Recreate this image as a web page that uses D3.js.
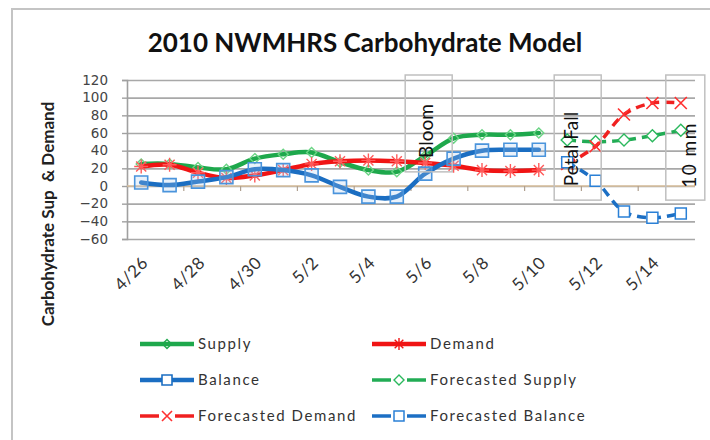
<!DOCTYPE html>
<html>
<head>
<meta charset="utf-8">
<script src="https://cdn.jsdelivr.net/npm/d3@7"></script>
<style>
  body { margin: 0; background: #fff; }
  svg { display: block; }
</style>
</head>
<body>
<svg id="chart" width="710" height="440"></svg>
<script>
// dates on the category axis
const dates = ["4/26","4/27","4/28","4/29","4/30","5/1","5/2","5/3","5/4","5/5",
               "5/6","5/7","5/8","5/9","5/10","5/11","5/12","5/13","5/14","5/15"];
const tickLabels = ["4/26","4/28","4/30","5/2","5/4","5/6","5/8","5/10","5/12","5/14"];
const yTicks = [-60, -40, -20, 0, 20, 40, 60, 80, 100, 120];

// measured series (4/26 .. 5/10)
const supply  = [25, 25, 21, 19, 31, 36, 38, 27, 18, 16, 34, 54, 58, 58, 60];
const demand  = [22, 24, 15,  9, 12, 18, 25, 28, 29, 28, 26, 23, 18, 17, 18];
const balance = [ 4,  1,  5, 10, 19, 18, 12, -1,-12,-12, 14, 31, 40, 41, 41];

// forecast series (5/11 .. 5/15)
const fcDates   = ["5/11","5/12","5/13","5/14","5/15"];
const fcSupply  = [52, 50, 52, 57, 63];
const fcDemand  = [25, 45, 81, 94, 94];
const fcBalance = [27,  6,-29,-36,-31];

// stage notes
const noteLabels = ["Bloom", "Petal Fall", "10 mm"];
const noteDates  = ["5/6", "5/11", "5/15"];

const svg = d3.select("#chart");
const plotL = 127, plotR = 695, plotT = 80, plotB = 239;

const x = d3.scaleBand().domain(dates).range([plotL, plotR]);
const cx = d => x(d) + x.bandwidth() / 2;
const y = d3.scaleLinear().domain([-60, 120]).range([plotB, plotT]);

// outer chart frame
svg.append("path")
  .attr("d", "M12,440V9H712")
  .attr("fill", "none")
  .attr("stroke", "#c4c4c4")
  .attr("stroke-width", 2);

// title
svg.append("text")
  .attr("x", 365).attr("y", 52)
  .attr("text-anchor", "middle")
  .style("font", "bold 26px Lato, sans-serif")
  .style("fill", "#111")
  .text("2010 NWMHRS Carbohydrate Model");

// y axis title
svg.append("text")
  .attr("transform", "translate(54,214) rotate(-90)")
  .attr("text-anchor", "middle")
  .style("font", "bold 17px Lato, sans-serif")
  .style("fill", "#222")
  .style("white-space", "pre")
  .text("Carbohydrate Sup  & Demand");

// gridlines
svg.append("g")
  .attr("transform", `translate(${plotL},0)`)
  .call(d3.axisLeft(y).tickValues(yTicks).tickSize(-(plotR - plotL)).tickFormat(""))
  .call(g => g.select(".domain").remove())
  .call(g => g.selectAll("line").attr("stroke", "#a8a8a8").attr("stroke-width", 1.6));

// y axis
svg.append("g")
  .attr("transform", `translate(${plotL},0)`)
  .call(d3.axisLeft(y).tickValues(yTicks).tickSize(5).tickPadding(14))
  .call(g => g.select(".domain").attr("stroke", "#a0a0a0").attr("stroke-width", 1.6))
  .call(g => g.selectAll("line").attr("stroke", "#a0a0a0").attr("stroke-width", 1.4))
  .call(g => g.selectAll("text").style("font", "13.5px 'DejaVu Sans', sans-serif").attr("fill", "#444"));

// category axis crossing at 0
const xAxis = svg.append("g");
xAxis.append("line")
  .attr("x1", plotL).attr("x2", plotR)
  .attr("y1", y(0)).attr("y2", y(0))
  .attr("stroke", "#d8bf9c").attr("stroke-width", 1.4);
xAxis.selectAll("line.tick")
  .data(tickLabels.slice(1))
  .join("line")
  .attr("class", "tick")
  .attr("x1", d => x(d)).attr("x2", d => x(d))
  .attr("y1", y(0)).attr("y2", y(0) + 5)
  .attr("stroke", "#b0a090").attr("stroke-width", 1.2);
xAxis.selectAll("text")
  .data(tickLabels)
  .join("text")
  .attr("transform", d => `translate(${cx(d) + 8},${plotB + 25}) rotate(-45)`)
  .attr("text-anchor", "end")
  .style("font", "17px Lato, sans-serif")
  .style("letter-spacing", "0.5px")
  .style("fill", "#333")
  .text(d => d);

// marker shapes
const shapes = {
  diamond: s => `M0,${-s}L${s},0L0,${s}L${-s},0Z`,
  star: s => { const k = s * 0.72; return `M${-s},0H${s}M0,${-s}V${s}M${-k},${-k}L${k},${k}M${-k},${k}L${k},${-k}`; },
  cross: s => `M${-s},${-s}L${s},${s}M${-s},${s}L${s},${-s}`,
  square: s => `M${-s},${-s}H${s}V${s}H${-s}Z`
};

const series = [
  { name: "Supply", dates: dates, values: supply, color: "#1ea84c", dash: null, width: 4.5,
    shape: "diamond", size: 5, mStroke: "#6ad484", mFill: "none", mWidth: 1.4, legSize: 4.5 },
  { name: "Demand", dates: dates, values: demand, color: "#f01414", dash: null, width: 4.5,
    shape: "star", size: 7, mStroke: "#ff5a5a", mFill: "none", mWidth: 1.4, legSize: 6 },
  { name: "Balance", dates: dates, values: balance, color: "#1b6ec2", dash: null, width: 4.5,
    shape: "square", size: 6.5, mStroke: "#4a94dc", mFill: "rgba(170,205,240,0.25)", mWidth: 1.6, legSize: 5 },
  { name: "Forecasted Supply", dates: fcDates, values: fcSupply, color: "#22ac55", dash: "9,6", width: 3.5,
    shape: "diamond", size: 6, mStroke: "#2bb85d", mFill: "#fff", mWidth: 1.4, legSize: 5 },
  { name: "Forecasted Demand", dates: fcDates, values: fcDemand, color: "#f02020", dash: "9,6", width: 3.5,
    shape: "cross", size: 6, mStroke: "#ff3030", mFill: "none", mWidth: 1.6, legSize: 5 },
  { name: "Forecasted Balance", dates: fcDates, values: fcBalance, color: "#1c6fc4", dash: "9,6", width: 3.5,
    shape: "square", size: 5.5, mStroke: "#2a80d6", mFill: "#fff", mWidth: 1.5, legSize: 5 }
];

const line = d3.line().curve(d3.curveCatmullRom);

series.forEach(s => {
  const pts = s.values.map((v, i) => [cx(s.dates[i]), y(v)]);
  svg.append("path")
    .attr("d", line(pts))
    .attr("fill", "none")
    .attr("stroke", s.color)
    .attr("stroke-width", s.width)
    .attr("stroke-dasharray", s.dash)
    .attr("stroke-linecap", s.dash ? "butt" : "round");
  svg.append("g").selectAll("path")
    .data(pts)
    .join("path")
    .attr("transform", p => `translate(${p[0]},${p[1]})`)
    .attr("d", shapes[s.shape](s.size))
    .attr("fill", s.mFill)
    .attr("stroke", s.mStroke)
    .attr("stroke-width", s.mWidth);
});

// stage note boxes
const noteBox = [
  { x0: -20, x1: 27, low: 16, tx: 8,  ty: 131 },
  { x0: -13, x1: 34, low: -16, tx: 11, ty: 149 },
  { x0: -15, x1: 24, low: -16, tx: 15, ty: 155 }
];
noteLabels.forEach((label, i) => {
  const b = noteBox[i], c = cx(noteDates[i]);
  svg.append("rect")
    .attr("x", c + b.x0).attr("y", plotT - 5)
    .attr("width", b.x1 - b.x0).attr("height", y(b.low) - plotT + 5)
    .attr("fill", "none")
    .attr("stroke", "#c0c0c0").attr("stroke-width", 1.5);
  svg.append("text")
    .attr("transform", `translate(${c + b.tx},${b.ty}) rotate(-90)`)
    .attr("text-anchor", "middle")
    .style("font", "19px Lato, sans-serif")
    .style("letter-spacing", i === 2 ? "1.5px" : "0px")
    .style("fill", "#111")
    .text(label);
});

// legend
const legendCols = [140, 372], legendRows = [344, 380, 416];
series.forEach((s, k) => {
  const lx = legendCols[k % 2], ly = legendRows[Math.floor(k / 2)];
  const g = svg.append("g").attr("transform", `translate(${lx},${ly})`);
  const segs = s.dash ? [[0, 19], [35, 54]] : [[0, 54]];
  segs.forEach(sg => g.append("line")
    .attr("x1", sg[0]).attr("x2", sg[1])
    .attr("stroke", s.color).attr("stroke-width", s.width));
  g.append("path")
    .attr("transform", "translate(27,0)")
    .attr("d", shapes[s.shape](s.legSize))
    .attr("fill", s.mFill === "none" ? "none" : "#fff")
    .attr("stroke", s.dash ? s.mStroke : s.color)
    .attr("stroke-width", s.mWidth);
  g.append("text")
    .attr("x", 58).attr("y", 5)
    .style("font", "15px Lato, sans-serif")
    .style("letter-spacing", "1.6px")
    .style("fill", "#333")
    .text(s.name);
});
</script>
</body>
</html>
